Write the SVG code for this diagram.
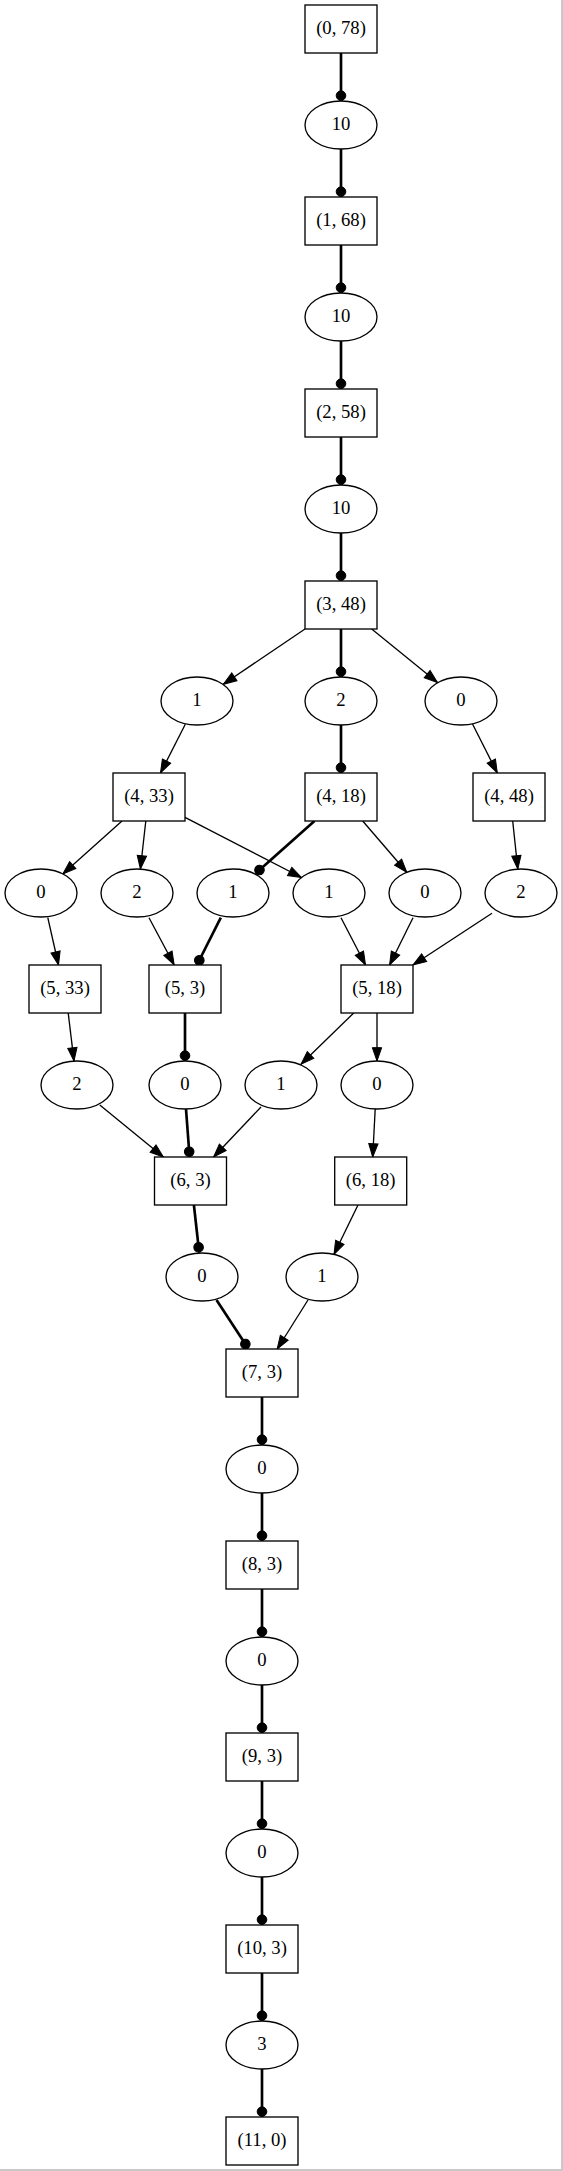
<svg xmlns="http://www.w3.org/2000/svg" width="563" height="2171" viewBox="0 0 563 2171">
<style>
.n rect,.n ellipse{fill:#fff;stroke:#000;stroke-width:1.33}
.n text{font-family:"Liberation Serif","Times New Roman",serif;font-size:18.67px;text-anchor:middle;fill:#000}
.e{stroke:#000;stroke-width:1.33;fill:none;marker-end:url(#arr)}
.b{stroke:#000;stroke-width:2.67;fill:none;marker-end:url(#dot)}
</style>
<defs>
<marker id="arr" markerUnits="userSpaceOnUse" viewBox="-1 -6 16 12" markerWidth="16" markerHeight="12" refX="13.33" refY="0" orient="auto">
<path d="M0,-4.67 L13.33,0 L0,4.67 Z" fill="#000" stroke="#000" stroke-width="1"/>
</marker>
<marker id="dot" markerUnits="userSpaceOnUse" viewBox="-1 -7 14 14" markerWidth="14" markerHeight="14" refX="10.66" refY="0" orient="auto">
<circle cx="5.33" cy="0" r="4.8" fill="#000" stroke="#000" stroke-width="1"/>
</marker>
</defs>
<rect x="561" y="0" width="2" height="2171" fill="#c8c8c8"/>
<rect x="0" y="2169" width="563" height="2" fill="#c8c8c8"/>
<g id="connectors">
<line class="b" x1="341" y1="53" x2="341" y2="101"/>
<line class="b" x1="341" y1="149" x2="341" y2="197"/>
<line class="b" x1="341" y1="245" x2="341" y2="293"/>
<line class="b" x1="341" y1="341" x2="341" y2="389"/>
<line class="b" x1="341" y1="437" x2="341" y2="485"/>
<line class="b" x1="341" y1="533" x2="341" y2="581"/>
<line class="e" x1="305" y1="629" x2="223.3" y2="684.3"/>
<line class="b" x1="341" y1="629" x2="341" y2="677"/>
<line class="e" x1="371.7" y1="629" x2="437.5" y2="682.5"/>
<line class="e" x1="185.3" y1="724.3" x2="160.5" y2="773"/>
<line class="b" x1="341" y1="725" x2="341" y2="773"/>
<line class="e" x1="472.5" y1="724" x2="497.3" y2="773"/>
<line class="e" x1="122" y1="821" x2="62.8" y2="874"/>
<line class="e" x1="145.8" y1="821" x2="140.4" y2="869"/>
<line class="e" x1="185" y1="817.3" x2="301.5" y2="877.5"/>
<line class="b" x1="314.5" y1="821" x2="255.5" y2="873.5"/>
<line class="e" x1="362.7" y1="821" x2="406.8" y2="872.3"/>
<line class="e" x1="512.7" y1="821" x2="517.8" y2="869"/>
<line class="e" x1="47.8" y1="917.7" x2="58.5" y2="965"/>
<line class="e" x1="149" y1="917.7" x2="174.2" y2="965"/>
<line class="b" x1="220.8" y1="917.7" x2="196.9" y2="965"/>
<line class="e" x1="341" y1="917.7" x2="365.5" y2="965"/>
<line class="e" x1="413" y1="917.7" x2="389.6" y2="965"/>
<line class="e" x1="492" y1="913.3" x2="413" y2="965"/>
<line class="e" x1="68.2" y1="1013" x2="74" y2="1061"/>
<line class="b" x1="185" y1="1013" x2="185" y2="1061"/>
<line class="e" x1="353.7" y1="1013" x2="301" y2="1064.3"/>
<line class="e" x1="377" y1="1013" x2="377" y2="1061"/>
<line class="e" x1="99.8" y1="1105" x2="163.4" y2="1157"/>
<line class="b" x1="186" y1="1109" x2="189.6" y2="1157"/>
<line class="e" x1="261" y1="1107" x2="213.6" y2="1157"/>
<line class="e" x1="375.2" y1="1109" x2="372.7" y2="1157"/>
<line class="b" x1="193.9" y1="1205" x2="199.2" y2="1252.6"/>
<line class="e" x1="358" y1="1205" x2="334" y2="1254.3"/>
<line class="b" x1="216.5" y1="1300" x2="248.3" y2="1348.5"/>
<line class="e" x1="308" y1="1300" x2="277.2" y2="1349"/>
<line class="b" x1="262" y1="1397" x2="262" y2="1445"/>
<line class="b" x1="262" y1="1493" x2="262" y2="1541"/>
<line class="b" x1="262" y1="1589" x2="262" y2="1637"/>
<line class="b" x1="262" y1="1685" x2="262" y2="1733"/>
<line class="b" x1="262" y1="1781" x2="262" y2="1829"/>
<line class="b" x1="262" y1="1877" x2="262" y2="1925"/>
<line class="b" x1="262" y1="1973" x2="262" y2="2021"/>
<line class="b" x1="262" y1="2069" x2="262" y2="2117"/>
</g>
<g id="n0" class="n"><rect x="305" y="5" width="72" height="48"/><text x="341" y="34.3">(0, 78)</text></g>
<g id="n1" class="n"><ellipse cx="341" cy="125" rx="36" ry="24"/><text x="341" y="130.3">10</text></g>
<g id="n2" class="n"><rect x="305" y="197" width="72" height="48"/><text x="341" y="226.3">(1, 68)</text></g>
<g id="n3" class="n"><ellipse cx="341" cy="317" rx="36" ry="24"/><text x="341" y="322.3">10</text></g>
<g id="n4" class="n"><rect x="305" y="389" width="72" height="48"/><text x="341" y="418.3">(2, 58)</text></g>
<g id="n5" class="n"><ellipse cx="341" cy="509" rx="36" ry="24"/><text x="341" y="514.3">10</text></g>
<g id="n6" class="n"><rect x="305" y="581" width="72" height="48"/><text x="341" y="610.3">(3, 48)</text></g>
<g id="n7" class="n"><ellipse cx="197" cy="701" rx="36" ry="24"/><text x="197" y="706.3">1</text></g>
<g id="n8" class="n"><ellipse cx="341" cy="701" rx="36" ry="24"/><text x="341" y="706.3">2</text></g>
<g id="n9" class="n"><ellipse cx="461" cy="701" rx="36" ry="24"/><text x="461" y="706.3">0</text></g>
<g id="n10" class="n"><rect x="113" y="773" width="72" height="48"/><text x="149" y="802.3">(4, 33)</text></g>
<g id="n11" class="n"><rect x="305" y="773" width="72" height="48"/><text x="341" y="802.3">(4, 18)</text></g>
<g id="n12" class="n"><rect x="473" y="773" width="72" height="48"/><text x="509" y="802.3">(4, 48)</text></g>
<g id="n13" class="n"><ellipse cx="41" cy="893" rx="36" ry="24"/><text x="41" y="898.3">0</text></g>
<g id="n14" class="n"><ellipse cx="137" cy="893" rx="36" ry="24"/><text x="137" y="898.3">2</text></g>
<g id="n15" class="n"><ellipse cx="233" cy="893" rx="36" ry="24"/><text x="233" y="898.3">1</text></g>
<g id="n16" class="n"><ellipse cx="329" cy="893" rx="36" ry="24"/><text x="329" y="898.3">1</text></g>
<g id="n17" class="n"><ellipse cx="425" cy="893" rx="36" ry="24"/><text x="425" y="898.3">0</text></g>
<g id="n18" class="n"><ellipse cx="521" cy="893" rx="36" ry="24"/><text x="521" y="898.3">2</text></g>
<g id="n19" class="n"><rect x="29" y="965" width="72" height="48"/><text x="65" y="994.3">(5, 33)</text></g>
<g id="n20" class="n"><rect x="149" y="965" width="72" height="48"/><text x="185" y="994.3">(5, 3)</text></g>
<g id="n21" class="n"><rect x="341" y="965" width="72" height="48"/><text x="377" y="994.3">(5, 18)</text></g>
<g id="n22" class="n"><ellipse cx="77" cy="1085" rx="36" ry="24"/><text x="77" y="1090.3">2</text></g>
<g id="n23" class="n"><ellipse cx="185" cy="1085" rx="36" ry="24"/><text x="185" y="1090.3">0</text></g>
<g id="n24" class="n"><ellipse cx="281" cy="1085" rx="36" ry="24"/><text x="281" y="1090.3">1</text></g>
<g id="n25" class="n"><ellipse cx="377" cy="1085" rx="36" ry="24"/><text x="377" y="1090.3">0</text></g>
<g id="n26" class="n"><rect x="154.5" y="1157" width="72" height="48"/><text x="190.5" y="1186.3">(6, 3)</text></g>
<g id="n27" class="n"><rect x="334.7" y="1157" width="72" height="48"/><text x="370.7" y="1186.3">(6, 18)</text></g>
<g id="n28" class="n"><ellipse cx="202" cy="1277" rx="36" ry="24"/><text x="202" y="1282.3">0</text></g>
<g id="n29" class="n"><ellipse cx="322" cy="1277" rx="36" ry="24"/><text x="322" y="1282.3">1</text></g>
<g id="n30" class="n"><rect x="226" y="1349" width="72" height="48"/><text x="262" y="1378.3">(7, 3)</text></g>
<g id="n31" class="n"><ellipse cx="262" cy="1469" rx="36" ry="24"/><text x="262" y="1474.3">0</text></g>
<g id="n32" class="n"><rect x="226" y="1541" width="72" height="48"/><text x="262" y="1570.3">(8, 3)</text></g>
<g id="n33" class="n"><ellipse cx="262" cy="1661" rx="36" ry="24"/><text x="262" y="1666.3">0</text></g>
<g id="n34" class="n"><rect x="226" y="1733" width="72" height="48"/><text x="262" y="1762.3">(9, 3)</text></g>
<g id="n35" class="n"><ellipse cx="262" cy="1853" rx="36" ry="24"/><text x="262" y="1858.3">0</text></g>
<g id="n36" class="n"><rect x="226" y="1925" width="72" height="48"/><text x="262" y="1954.3">(10, 3)</text></g>
<g id="n37" class="n"><ellipse cx="262" cy="2045" rx="36" ry="24"/><text x="262" y="2050.3">3</text></g>
<g id="n38" class="n"><rect x="226" y="2117" width="72" height="48"/><text x="262" y="2146.3">(11, 0)</text></g>
</svg>
